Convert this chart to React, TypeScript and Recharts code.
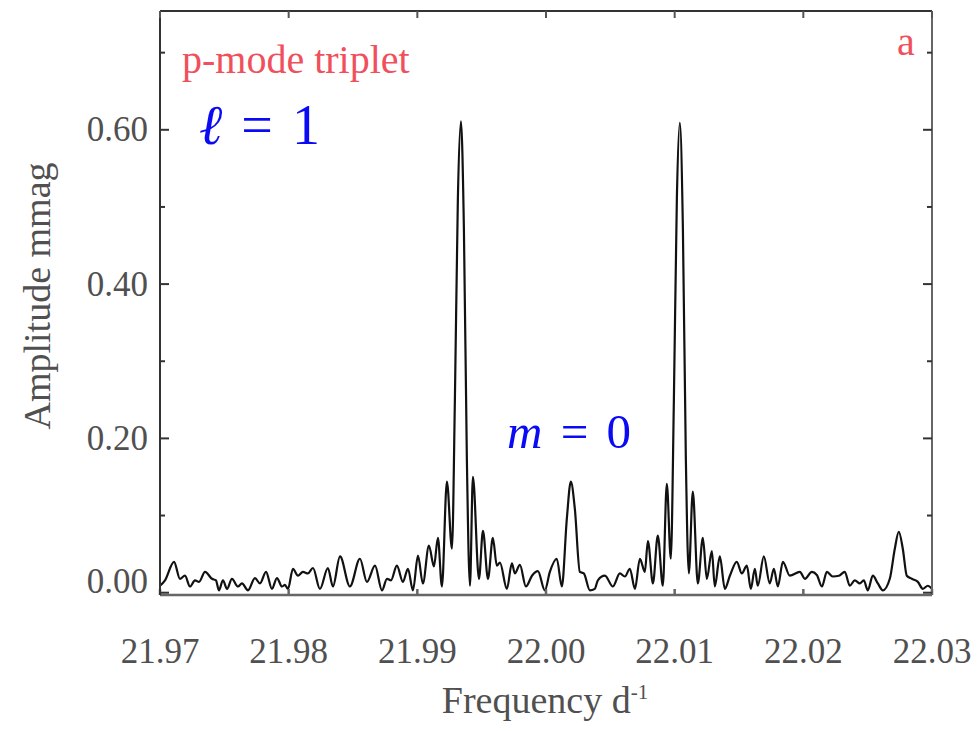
import { LineChart, Line, XAxis, YAxis } from 'recharts';

// frequency (d^-1) and amplitude (mmag)
const freq = [
    21.97, 21.97039, 21.97109, 21.97155, 21.97194, 21.97233, 21.97272, 21.97303, 21.9735, 21.97404,
    21.97435, 21.97458, 21.97489, 21.97521, 21.97559, 21.97606, 21.97637, 21.97684, 21.97738, 21.97777,
    21.97824, 21.9787, 21.97909, 21.97948, 21.97971, 21.97995, 21.98033, 21.98072, 21.98111, 21.9815,
    21.98189, 21.98243, 21.98305, 21.98344, 21.98399, 21.98476, 21.98554, 21.98608, 21.98671, 21.98725,
    21.98764, 21.98795, 21.98841, 21.98888, 21.98927, 21.98966, 21.99005, 21.99043, 21.9909, 21.99129,
    21.9916, 21.99191, 21.9923, 21.99269, 21.99292, 21.99315, 21.99339, 21.99362, 21.99385, 21.99409,
    21.99432, 21.99479, 21.9951, 21.99549, 21.99587, 21.99618, 21.99642, 21.99696, 21.99735, 21.99758,
    21.99797, 21.99844, 21.99891, 21.99937, 21.99991, 22.0003, 22.00084, 22.00123, 22.00162, 22.00193,
    22.00224, 22.00263, 22.00294, 22.00341, 22.00379, 22.00403, 22.00458, 22.0052, 22.00574, 22.00613,
    22.00652, 22.00691, 22.0073, 22.00768, 22.00792, 22.00831, 22.00869, 22.00908, 22.00939, 22.0097,
    22.00994, 22.01017, 22.0104, 22.01064, 22.01087, 22.0111, 22.01141, 22.0118, 22.01219, 22.0125,
    22.01289, 22.01312, 22.01351, 22.0139, 22.01429, 22.01483, 22.01522, 22.01561, 22.01592, 22.01623,
    22.01646, 22.01693, 22.01739, 22.01771, 22.01802, 22.01841, 22.01895, 22.01973, 22.02012, 22.02066,
    22.02105, 22.02144, 22.02183, 22.02229, 22.02276, 22.02322, 22.02361, 22.024, 22.02439, 22.0247,
    22.02501, 22.0254, 22.02579, 22.02618, 22.02672, 22.02711, 22.02742, 22.02773, 22.02804, 22.02843,
    22.0289, 22.02929, 22.02968, 22.03,
];

const amp = [
    0.009, 0.016, 0.04, 0.018, 0.022, 0.008, 0.016, 0.014, 0.027, 0.018,
    0.016, 0.003, 0.016, 0.005, 0.018, 0.008, 0.012, 0.003, 0.019, 0.012,
    0.027, 0.005, 0.019, 0.008, 0.01, 0.005, 0.031, 0.022, 0.027, 0.025,
    0.032, 0.005, 0.032, 0.008, 0.047, 0.008, 0.044, 0.014, 0.035, 0.003,
    0.018, 0.016, 0.035, 0.014, 0.031, 0.003, 0.048, 0.012, 0.061, 0.034,
    0.071, 0.008, 0.144, 0.057, 0.251, 0.51, 0.611, 0.471, 0.173, 0.009,
    0.15, 0.018, 0.08, 0.018, 0.071, 0.035, 0.039, 0.005, 0.038, 0.025,
    0.036, 0.008, 0.022, 0.028, 0.003, 0.027, 0.044, 0.008, 0.096, 0.144,
    0.109, 0.027, 0.025, 0.003, 0.005, 0.016, 0.022, 0.008, 0.025, 0.021,
    0.031, 0.005, 0.044, 0.027, 0.067, 0.012, 0.074, 0.009, 0.141, 0.044,
    0.251, 0.51, 0.609, 0.471, 0.173, 0.025, 0.131, 0.012, 0.071, 0.018,
    0.054, 0.008, 0.047, 0.005, 0.022, 0.04, 0.025, 0.035, 0.005, 0.031,
    0.009, 0.047, 0.012, 0.031, 0.008, 0.04, 0.022, 0.027, 0.018, 0.027,
    0.023, 0.008, 0.027, 0.021, 0.022, 0.027, 0.009, 0.016, 0.012, 0.016,
    0.003, 0.022, 0.012, 0.003, 0.018, 0.057, 0.079, 0.057, 0.022, 0.018,
    0.014, 0.005, 0.009, 0.005,
];

const xTicks = [21.97, 21.98, 21.99, 22.0, 22.01, 22.02, 22.03];
const yTicks = [0, 0.1, 0.2, 0.3, 0.4, 0.5, 0.6, 0.7];
const yLabels = [0, 0.2, 0.4, 0.6];

const data = freq.map((f, i) => ({ f, a: amp[i] }));

const serif = '"Liberation Serif", "Times New Roman", serif';
const grey = '#505050';
const red = '#f0505c';
const blue = '#0a0af5';

const isMajor = (v: number) => yLabels.some((l) => Math.abs(l - v) < 1e-6);

const LeftTick = (props: any) => {
    const { x, y, payload } = props;
    const v = payload.value;
    const major = isMajor(v);
    const shift = v === 0 ? -11 : 0;
    return (
        <g>
            <line x1={x + 12} x2={x + 12 + (major ? 9 : 5)} y1={y} y2={y} stroke='#333' strokeWidth={2} />
            {major && (
                <text
                    x={x}
                    y={y + shift}
                    textAnchor='end'
                    dominantBaseline='central'
                    fontFamily={serif}
                    fontSize={35}
                    fill={grey}
                >
                    {v.toFixed(2)}
                </text>
            )}
        </g>
    );
};

const RightTick = (props: any) => {
    const { x, y, payload } = props;
    const major = isMajor(payload.value);
    return <line x1={x} x2={x - (major ? 9 : 5)} y1={y} y2={y} stroke='#333' strokeWidth={2} />;
};

const TopTick = (props: any) => {
    const { x, y } = props;
    return <line x1={x} x2={x} y1={y} y2={y + 7} stroke='#555' strokeWidth={2} />;
};

const App = () => {
    return (
        <div style={{ position: 'absolute', left: 0, top: 0, width: 978, height: 731, background: '#fff' }}>
            <LineChart
                width={978}
                height={731}
                data={data}
                margin={{ top: 5, right: 0, left: 80, bottom: 36 }}
            >
                <XAxis
                    xAxisId='bottom'
                    dataKey='f'
                    type='number'
                    domain={[21.97, 22.03]}
                    ticks={xTicks}
                    tickFormatter={(v: number) => v.toFixed(2)}
                    height={100}
                    tickSize={-6}
                    tickMargin={49}
                    tick={{ fontFamily: serif, fontSize: 35, fill: grey }}
                    stroke='#666'
                    strokeWidth={2.5}
                    allowDataOverflow
                />
                <XAxis
                    xAxisId='top'
                    dataKey='f'
                    type='number'
                    orientation='top'
                    domain={[21.97, 22.03]}
                    ticks={xTicks}
                    height={6}
                    tickLine={false}
                    tickSize={0}
                    tickMargin={0}
                    tick={<TopTick />}
                    stroke='#333'
                    strokeWidth={2}
                    allowDataOverflow
                />
                <YAxis
                    yAxisId='left'
                    type='number'
                    domain={[-0.003, 0.754]}
                    ticks={yTicks}
                    width={80}
                    tickLine={false}
                    tickSize={-8}
                    tickMargin={20}
                    tick={<LeftTick />}
                    stroke='#333'
                    strokeWidth={2}
                    allowDataOverflow
                />
                <YAxis
                    yAxisId='right'
                    type='number'
                    orientation='right'
                    domain={[-0.003, 0.754]}
                    ticks={yTicks}
                    width={46}
                    tickLine={false}
                    tickSize={0}
                    tickMargin={0}
                    tick={<RightTick />}
                    stroke='#666'
                    strokeWidth={2}
                    allowDataOverflow
                />
                <Line
                    xAxisId='top'
                    yAxisId='right'
                    dataKey='a'
                    stroke='none'
                    dot={false}
                    isAnimationActive={false}
                />
                <Line
                    xAxisId='bottom'
                    yAxisId='left'
                    type='monotone'
                    dataKey='a'
                    stroke='#111'
                    strokeWidth={2.2}
                    dot={false}
                    isAnimationActive={false}
                />
            </LineChart>
            <div
                style={{
                    position: 'absolute',
                    left: 182,
                    top: 40,
                    fontFamily: serif,
                    fontSize: 40,
                    color: red,
                    lineHeight: 1,
                    whiteSpace: 'nowrap',
                }}
            >
                p-mode triplet
            </div>
            <div
                style={{
                    position: 'absolute',
                    left: 897,
                    top: 22,
                    fontFamily: serif,
                    fontSize: 40,
                    color: red,
                    lineHeight: 1,
                }}
            >
                a
            </div>
            <div
                style={{
                    position: 'absolute',
                    left: 199,
                    top: 97,
                    fontFamily: serif,
                    fontSize: 56,
                    color: blue,
                    lineHeight: 1,
                    whiteSpace: 'pre',
                    wordSpacing: 5,
                }}
            >
                <i>ℓ</i> = 1
            </div>
            <div
                style={{
                    position: 'absolute',
                    left: 507,
                    top: 407,
                    fontFamily: serif,
                    fontSize: 49,
                    color: blue,
                    lineHeight: 1,
                    whiteSpace: 'pre',
                    wordSpacing: 6,
                }}
            >
                <i>m</i> = 0
            </div>
            <div
                style={{
                    position: 'absolute',
                    left: 37,
                    top: 296,
                    transform: 'translate(-50%, -50%) rotate(-90deg)',
                    fontFamily: serif,
                    fontSize: 38,
                    color: grey,
                    lineHeight: 1,
                    whiteSpace: 'nowrap',
                }}
            >
                Amplitude mmag
            </div>
            <div
                style={{
                    position: 'absolute',
                    left: 545,
                    top: 700,
                    transform: 'translate(-50%, -50%)',
                    fontFamily: serif,
                    fontSize: 38,
                    color: grey,
                    lineHeight: 1,
                    whiteSpace: 'nowrap',
                }}
            >
                Frequency d<sup style={{ fontSize: 21 }}>-1</sup>
            </div>
        </div>
    );
};

export default App;
